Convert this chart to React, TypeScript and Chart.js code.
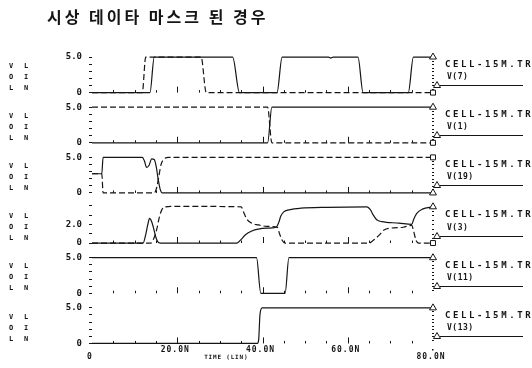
import React, { useEffect, useRef } from "react";
import { Chart, registerables } from "chart.js";

Chart.register(...registerables);

// ---------- text ----------
const TITLE = "시상 데이타 마스크 된 경우";
const FILE_LABEL = "CELL-15M.TR0";
const X_TITLE = "TIME (LIN)";
const X_LABEL_VALUES = [0, 20, 40, 60, 80];
const X_LABELS = ["0", "20.0N", "40.0N", "60.0N", "80.0N"];
const NODE_NAMES = ["V(7)", "V(1)", "V(19)", "V(3)", "V(11)", "V(13)"];
const LEFT_COL1 = ["V", "O", "L"];
const LEFT_COL2 = ["L", "I", "N"];

// ---------- per-panel axis values ----------
const PANEL_FULL = [5, 5, 5, 4, 5, 5];
const PANEL_MIN = [-0.5, -0.5, -0.5, -0.39, -0.5, -0.5];
const PANEL_MAX = [6.55, 6.55, 6.55, 5.01, 6.55, 6.55];
const TOP_LABEL_VALUE = [5, 5, 5, 2, 5, 5];
const TOP_LABEL_TEXT = ["5.0", "5.0", "5.0", "2.0", "5.0", "5.0"];

// ---------- series (time in ns, volts) ----------
// Panel 1: V(7)
const v7SolidT = [0, 13.6, 14.6, 33.0, 34.6, 43.4, 44.6, 55.5, 56.0, 56.6, 62.4, 63.6, 74.2, 75.4, 80];
const v7SolidV = [0, 0, 5, 5, 0, 0, 5, 5, 4.85, 5, 5, 0, 0, 5, 5];
const v7DashT = [0, 11.8, 12.6, 25.6, 26.8, 80];
const v7DashV = [0, 0, 5, 5, 0, 0];
// Panel 2: V(1)
const v1SolidT = [0, 41.2, 42.2, 80];
const v1SolidV = [0, 0, 5, 5];
const v1DashT = [0, 41.2, 42.2, 80];
const v1DashV = [5, 5, 0, 0];
// Panel 3: V(19)
const v19SolidT = [0, 2.3, 2.6, 11.8, 12.3, 12.8, 13.4, 14.0, 14.6, 15.1, 15.5, 16.0, 16.5, 80];
const v19SolidV = [2.7, 2.7, 5, 5, 4.5, 3.6, 3.9, 4.8, 4.7, 3.6, 2.0, 0.5, 0, 0];
const v19DashT = [0, 2.3, 2.6, 14.6, 15.2, 15.7, 16.2, 16.8, 18.0, 80];
const v19DashV = [2.7, 2.7, 0, 0, 0.8, 2.4, 4.0, 4.7, 5, 5];
// Panel 4: V(3)
const v3SolidT = [0, 12.0, 12.6, 13.1, 13.5, 14.0, 14.5, 15.0, 15.5, 16.0, 34.0, 35.0, 36.0, 37.5, 39.0, 41.0, 43.2, 43.8, 44.3, 45.0, 46.5, 49.0, 55.0, 64.5, 65.3, 66.0, 66.8, 68.0, 72.0, 75.0, 75.5, 76.2, 77.5, 80];
const v3SolidV = [0, 0, 0.9, 2.0, 2.65, 2.3, 1.5, 0.6, 0.1, 0, 0, 0.4, 0.9, 1.3, 1.5, 1.6, 1.7, 2.2, 2.9, 3.35, 3.6, 3.75, 3.85, 3.9, 3.6, 3.0, 2.5, 2.3, 2.15, 2.0, 2.6, 3.2, 3.65, 3.9];
const v3DashT = [0, 13.8, 14.5, 15.2, 15.8, 16.4, 17.2, 18.5, 35.0, 35.6, 36.3, 37.2, 39.0, 41.0, 43.5, 44.0, 44.6, 45.3, 65.0, 66.0, 67.5, 68.5, 70.0, 73.0, 75.0, 75.5, 76.0, 76.6, 80];
const v3DashV = [0, 0, 0.5, 1.5, 2.8, 3.6, 3.9, 3.95, 3.9, 3.3, 2.6, 2.2, 1.95, 1.8, 1.7, 1.0, 0.3, 0, 0, 0.3, 0.9, 1.4, 1.6, 1.7, 1.9, 1.2, 0.3, 0, 0];
// Panel 5: V(11)
const v11SolidT = [0, 38.6, 39.6, 45.3, 46.2, 80];
const v11SolidV = [5, 5, 0, 0, 5, 5];
// Panel 6: V(13)
const v13SolidT = [0, 38.8, 39.1, 39.4, 39.9, 80];
const v13SolidV = [0, 0, 0.5, 4.0, 5, 5];

type Series = [number[], number[]];
const PANELS: { solid: Series; dash?: Series }[] = [
  { solid: [v7SolidT, v7SolidV], dash: [v7DashT, v7DashV] },
  { solid: [v1SolidT, v1SolidV], dash: [v1DashT, v1DashV] },
  { solid: [v19SolidT, v19SolidV], dash: [v19DashT, v19DashV] },
  { solid: [v3SolidT, v3SolidV], dash: [v3DashT, v3DashV] },
  { solid: [v11SolidT, v11SolidV] },
  { solid: [v13SolidT, v13SolidV] },
];

const INK = "#151515";
const MONO = '"DejaVu Sans Mono", monospace';

function toPoints(s: Series) {
  return s[0].map((t, i) => ({ x: t, y: s[1][i] }));
}

function txt(ctx: any, s: string, x: number, y: number, font: string, align: string, spacing: number) {
  ctx.font = font;
  ctx.textAlign = align;
  ctx.textBaseline = "middle";
  ctx.letterSpacing = spacing + "px";
  ctx.fillText(s, x, y);
  ctx.letterSpacing = "0px";
}

const overlayPlugin = {
  id: "overlay",
  afterDraw(chart: any) {
    const ctx = chart.ctx;
    const area = chart.chartArea;
    const xs = chart.scales.x;
    ctx.save();
    ctx.fillStyle = INK;
    ctx.strokeStyle = INK;
    PANEL_FULL.forEach((full, i) => {
      const ys = chart.scales["y" + i];
      const base = ys.getPixelForValue(0);
      ctx.lineWidth = 1;
      // time ticks along each panel baseline
      for (let t = 5; t < 80; t += 5) {
        const x = Math.round(xs.getPixelForValue(t)) + 0.5;
        const len = t % 20 === 0 ? 6 : 2.5;
        ctx.beginPath();
        ctx.moveTo(x, base);
        ctx.lineTo(x, base - len);
        ctx.stroke();
      }
      // dotted right edge
      for (let v = 0.5; v < full; v += 0.5) {
        const y = Math.round(ys.getPixelForValue(v));
        ctx.fillRect(area.right - 1, y, 2, 1);
      }
      // left vertical words
      [20, 31, 42].forEach((dy, r) => {
        txt(ctx, LEFT_COL1[r], 11, ys.top + dy, `bold 7px ${MONO}`, "center", 0);
        txt(ctx, LEFT_COL2[r], 26, ys.top + dy, `bold 7px ${MONO}`, "center", 0);
      });
      // right legend
      txt(ctx, FILE_LABEL, area.right + 12, ys.top + 18.5, `bold 9px ${MONO}`, "left", 2.6);
      txt(ctx, NODE_NAMES[i], area.right + 14, ys.top + 31, `bold 8px ${MONO}`, "left", 0.5);
      const ly = Math.round(ys.top + 39) + 0.5;
      ctx.beginPath();
      ctx.moveTo(area.right + 7, ly);
      ctx.lineTo(area.right + 90, ly);
      ctx.stroke();
      ctx.beginPath();
      const tx = area.right + 4;
      ctx.moveTo(tx, ly - 4);
      ctx.lineTo(tx + 3.5, ly + 2);
      ctx.lineTo(tx - 3.5, ly + 2);
      ctx.closePath();
      ctx.fillStyle = "#fff";
      ctx.fill();
      ctx.stroke();
      ctx.fillStyle = INK;
    });
    // time axis labels
    X_LABEL_VALUES.forEach((v, k) => {
      const x = xs.getPixelForValue(v) - 2;
      const low = v === 0 || v === 80;
      txt(ctx, X_LABELS[k], x, area.bottom + (low ? 10 : 3), `bold 8px ${MONO}`, "center", 1);
    });
    ctx.fillRect(Math.round(xs.getPixelForValue(80)) - 1, area.bottom + 2, 1.5, 1.5);
    txt(ctx, X_TITLE, xs.getPixelForValue(31.5), area.bottom + 10, `bold 6px ${MONO}`, "center", 0.8);
    ctx.restore();
  },
};

export default function App() {
  const ref = useRef<HTMLCanvasElement | null>(null);
  useEffect(() => {
    if (!ref.current) return;
    const datasets: any[] = [];
    PANELS.forEach((p, i) => {
      const solid = toPoints(p.solid);
      datasets.push({
        data: solid,
        yAxisID: "y" + i,
        xAxisID: "x",
        borderColor: INK,
        borderWidth: 1.2,
        cubicInterpolationMode: "monotone",
        pointStyle: "triangle",
        pointRadius: (c: any) => (c.dataIndex === solid.length - 1 ? 4 : 0),
        pointBorderColor: INK,
        pointBackgroundColor: "#fff",
        pointBorderWidth: 1,
        fill: false,
        clip: 8,
      });
      if (p.dash) {
        const dash = toPoints(p.dash);
        datasets.push({
          data: dash,
          yAxisID: "y" + i,
          xAxisID: "x",
          borderColor: INK,
          borderWidth: 1.2,
          borderDash: [6, 3],
          cubicInterpolationMode: "monotone",
          pointStyle: "rect",
          pointRadius: (c: any) => (c.dataIndex === dash.length - 1 ? 3.5 : 0),
          pointBorderColor: INK,
          pointBackgroundColor: "#fff",
          pointBorderWidth: 1,
          fill: false,
          clip: 8,
        });
      }
    });

    const scales: any = {
      x: {
        type: "linear",
        position: "bottom",
        min: 0,
        max: 80,
        display: false,
      },
    };
    for (let i = PANELS.length - 1; i >= 0; i--) {
      const full = PANEL_FULL[i];
      scales["y" + i] = {
        type: "linear",
        position: "left",
        stack: "panels",
        stackWeight: 1,
        min: PANEL_MIN[i],
        max: PANEL_MAX[i],
        afterBuildTicks: (s: any) => {
          const arr = [];
          for (let v = 0; v <= full; v += 1) arr.push({ value: v });
          s.ticks = arr;
        },
        afterFit: (s: any) => {
          s.width = 30;
        },
        border: { display: false },
        grid: {
          display: true,
          drawOnChartArea: false,
          drawTicks: true,
          tickLength: 3,
          color: INK,
          lineWidth: 1,
        },
        ticks: {
          autoSkip: false,
          padding: 7,
          color: INK,
          font: { family: "DejaVu Sans Mono", size: 9, weight: "bold" },
          callback: (v: number) =>
            v === 0 ? "0" : v === TOP_LABEL_VALUE[i] ? TOP_LABEL_TEXT[i] : "",
        },
      };
    }

    const chart = new Chart(ref.current, {
      type: "line",
      data: { datasets },
      options: {
        animation: false,
        responsive: false,
        events: [],
        layout: { padding: { left: 62, right: 99, top: 46, bottom: 21 } },
        plugins: { legend: { display: false }, tooltip: { enabled: false }, title: { display: false } },
        scales,
      },
      plugins: [overlayPlugin],
    } as any);
    return () => chart.destroy();
  }, []);

  return (
    <div style={{ position: "fixed", left: 0, top: 0, width: 532, height: 368, background: "#fff" }}>
      <canvas ref={ref} width={532} height={368} style={{ position: "absolute", left: 0, top: 0 }} />
      <div
        style={{
          position: "absolute",
          left: 47,
          top: 8,
          fontFamily: '"Noto Sans CJK KR", sans-serif',
          fontWeight: 700,
          fontSize: 16,
          lineHeight: "16px",
          letterSpacing: "3px",
          whiteSpace: "nowrap",
          color: INK,
        }}
      >
        {TITLE}
      </div>
    </div>
  );
}
